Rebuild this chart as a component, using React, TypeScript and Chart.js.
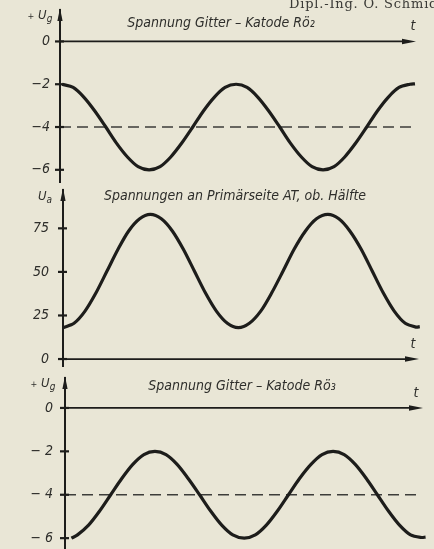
import React, { useEffect, useRef } from "react";
import { Chart, registerables } from "chart.js";
Chart.register(...registerables);

const W = 434;
const H = 549;
const INK = "#1d1d1b";
const INK2 = "#2e2e2b";
const PAPER = "#e9e6d6";
const FONT = '"DejaVu Sans Condensed", "Liberation Sans Narrow", "DejaVu Sans", sans-serif';

// ---- Panel 1: Spannung Gitter – Katode Rö2 ----
const t1 = [0.6, 3.7, 6.7, 9.8, 12.9, 15.9, 19.0, 22.0, 25.1, 28.2, 31.2, 34.3, 37.4, 40.4, 43.5, 46.5, 49.6, 52.7, 55.7, 58.8, 61.9, 64.9, 68.0, 71.0, 74.1, 77.2, 80.2, 83.3, 86.4, 89.4, 92.5, 95.5, 98.6, 100];
const ug2 = [-2, -2.15, -2.6, -3.25, -4, -4.75, -5.4, -5.85, -6, -5.85, -5.4, -4.75, -4, -3.25, -2.6, -2.15, -2, -2.15, -2.6, -3.25, -4, -4.75, -5.4, -5.85, -6, -5.85, -5.4, -4.75, -4, -3.25, -2.6, -2.15, -2, -1.98];
const ref1T = [0, 100];
const ref1V = [-4, -4];
const ticks1 = [0, -2, -4, -6];
const labels1 = ["0", "\u22122", "\u22124", "\u22126"];

// ---- Panel 2: Spannungen an Primärseite AT, ob. Hälfte ----
const t2 = [0, 3.1, 6.2, 9.3, 12.4, 15.5, 18.5, 21.6, 24.6, 27.7, 30.8, 33.9, 37.0, 40.1, 43.2, 46.3, 49.4, 52.5, 55.7, 58.8, 62.0, 65.1, 68.3, 71.4, 74.6, 77.7, 80.8, 84.0, 87.1, 90.2, 93.3, 96.4, 99.5, 100.5];
const ua = [18, 20.5, 27.5, 38, 50.5, 63, 73.5, 80.5, 83, 80.5, 73.5, 63, 50.5, 38, 27.5, 20.5, 18, 20.5, 27.5, 38, 50.5, 63, 73.5, 80.5, 83, 80.5, 73.5, 63, 50.5, 38, 27.5, 20.5, 18.3, 18.6];
const ticks2 = [0, 25, 50, 75];
const labels2 = ["0", "25", "50", "75"];

// ---- Panel 3: Spannung Gitter – Katode Rö3 ----
const t3 = [1.8, 3.5, 6.6, 9.7, 12.8, 15.9, 19.0, 22.1, 25.2, 28.3, 31.4, 34.5, 37.7, 40.8, 43.9, 47.0, 50.2, 53.3, 56.4, 59.5, 62.6, 65.7, 68.9, 72.0, 75.1, 78.2, 81.3, 84.4, 87.5, 90.6, 93.7, 96.8, 99.9, 101];
const ug3 = [-6, -5.85, -5.4, -4.75, -4, -3.25, -2.6, -2.15, -2, -2.15, -2.6, -3.25, -4, -4.75, -5.4, -5.85, -6, -5.85, -5.4, -4.75, -4, -3.25, -2.6, -2.15, -2, -2.15, -2.6, -3.25, -4, -4.75, -5.4, -5.85, -5.97, -5.95];
const ref3T = [0, 100];
const ref3V = [-4, -4];
const ticks3 = [0, -2, -4, -6];
const labels3 = ["0", "\u2212 2", "\u2212 4", "\u2212 6"];

type Panel = {
  t: number[];
  v: number[];
  refT?: number[];
  refV?: number[];
  ticks: number[];
  labels: string[];
  min: number;
  max: number;
  left: number;
  right: number;
  top: number;
  bottom: number;
  pad: number;
};

const panels: Panel[] = [
  { t: t1, v: ug2, refT: ref1T, refV: ref1V, ticks: ticks1, labels: labels1, min: -6.57, max: 1.47, left: 60, right: 415, top: 10, bottom: 182, pad: 10 },
  { t: t2, v: ua, ticks: ticks2, labels: labels2, min: -4, max: 97, left: 63, right: 418, top: 190, bottom: 366, pad: 14 },
  { t: t3, v: ug3, refT: ref3T, refV: ref3V, ticks: ticks3, labels: labels3, min: -6.5, max: 1.38, left: 65, right: 422, top: 378, bottom: 549, pad: 12 },
];

const YW = 50;

const decorPlugin = {
  id: "decor",
  afterDraw(chart: any) {
    const { ctx, chartArea } = chart;
    const y = chart.scales.y;
    const L = chartArea.left;
    const R = chartArea.right;
    ctx.save();
    ctx.strokeStyle = INK;
    ctx.fillStyle = INK;
    // tick marks crossing the axis
    ctx.lineWidth = 2.2;
    for (const tk of y.ticks) {
      const py = y.getPixelForValue(tk.value);
      ctx.beginPath();
      ctx.moveTo(L - 5, py);
      ctx.lineTo(L + 4, py);
      ctx.stroke();
    }
    // time axis at zero
    const y0 = y.getPixelForValue(0);
    ctx.lineWidth = 1.8;
    ctx.beginPath();
    ctx.moveTo(L, y0);
    ctx.lineTo(R - 8, y0);
    ctx.stroke();
    ctx.beginPath();
    ctx.moveTo(R + 1, y0);
    ctx.lineTo(R - 13, y0 - 2.8);
    ctx.lineTo(R - 13, y0 + 2.8);
    ctx.closePath();
    ctx.fill();
    // arrow on top of vertical axis
    const T = chartArea.top;
    ctx.beginPath();
    ctx.moveTo(L, T - 2);
    ctx.lineTo(L - 2.6, T + 11);
    ctx.lineTo(L + 2.6, T + 11);
    ctx.closePath();
    ctx.fill();
    ctx.restore();
  },
};

function makeConfig(p: Panel): any {
  const datasets: any[] = [
    {
      data: p.t.map((x, i) => ({ x, y: p.v[i] })),
      borderColor: INK,
      borderWidth: 3.2,
      pointRadius: 0,
      tension: 0.3,
      fill: false,
      clip: 6,
    },
  ];
  if (p.refT && p.refV) {
    datasets.push({
      data: p.refT.map((x, i) => ({ x, y: p.refV![i] })),
      borderColor: "#3d3d3a",
      borderWidth: 1.6,
      borderDash: [11, 6],
      pointRadius: 0,
      fill: false,
      clip: 6,
    });
  }
  return {
    type: "line",
    data: { datasets },
    options: {
      responsive: false,
      animation: false,
      events: [],
      layout: {
        padding: { left: p.left - YW, right: W - p.right, top: p.top, bottom: H - p.bottom },
      },
      plugins: {
        legend: { display: false },
        tooltip: { enabled: false },
        title: { display: false },
      },
      scales: {
        x: { type: "linear", min: 0, max: 100, display: false },
        y: {
          type: "linear",
          min: p.min,
          max: p.max,
          afterFit: (s: any) => {
            s.width = YW;
            s.paddingTop = 0;
            s.paddingBottom = 0;
          },
          afterBuildTicks: (s: any) => {
            s.ticks = p.ticks.map((value) => ({ value }));
          },
          ticks: {
            callback: (_v: any, i: number) => p.labels[i],
            font: { family: FONT, size: 14, style: "italic" },
            color: INK2,
            padding: p.pad,
          },
          grid: { display: false, drawTicks: false },
          border: { display: true, color: INK, width: 2 },
        },
      },
    },
    plugins: [decorPlugin],
  };
}

function PanelCanvas({ p }: { p: Panel }) {
  const ref = useRef<HTMLCanvasElement | null>(null);
  useEffect(() => {
    if (!ref.current) return;
    const chart = new Chart(ref.current, makeConfig(p));
    return () => chart.destroy();
  }, [p]);
  return (
    <canvas
      ref={ref}
      width={W}
      height={H}
      style={{ position: "absolute", left: 0, top: 0, width: W, height: H }}
    />
  );
}

const textBase: React.CSSProperties = {
  position: "absolute",
  fontFamily: FONT,
  fontStyle: "italic",
  color: INK2,
  whiteSpace: "nowrap",
  transform: "translate(-50%, -50%)",
  lineHeight: 1,
};

function Label({ x, y, size, children }: { x: number; y: number; size: number; children: React.ReactNode }) {
  return <div style={{ ...textBase, left: x, top: y, fontSize: size }}>{children}</div>;
}

export default function App() {
  return (
    <div
      style={{
        position: "fixed",
        left: 0,
        top: 0,
        width: W,
        height: H,
        overflow: "hidden",
        background: PAPER,
      }}
    >
      {panels.map((p, i) => (
        <PanelCanvas key={i} p={p} />
      ))}
      <div
        style={{
          position: "absolute",
          left: 289,
          top: -3,
          fontFamily: '"DejaVu Serif", "Liberation Serif", serif',
          fontSize: 13,
          fontWeight: 400,
          letterSpacing: 0.8,
          color: "#3a3a36",
          whiteSpace: "nowrap",
          lineHeight: 1,
        }}
      >
        Dipl.-Ing. O. Schmid
      </div>
      <Label x={221} y={22} size={14}>Spannung Gitter – Katode Rö₂</Label>
      <Label x={235} y={195} size={14}>Spannungen an Primärseite AT, ob. Hälfte</Label>
      <Label x={242} y={385} size={14}>Spannung Gitter – Katode Rö₃</Label>
      <Label x={413} y={25} size={14}>t</Label>
      <Label x={413} y={343} size={14}>t</Label>
      <Label x={416} y={392} size={14}>t</Label>
      <Label x={40} y={16} size={13}>
        <span style={{ fontSize: 9 }}>+</span> U<sub style={{ fontSize: 10 }}>g</sub>
      </Label>
      <Label x={45} y={197} size={13}>
        U<sub style={{ fontSize: 10 }}>a</sub>
      </Label>
      <Label x={43} y={384} size={13}>
        <span style={{ fontSize: 9 }}>+</span> U<sub style={{ fontSize: 10 }}>g</sub>
      </Label>
    </div>
  );
}
